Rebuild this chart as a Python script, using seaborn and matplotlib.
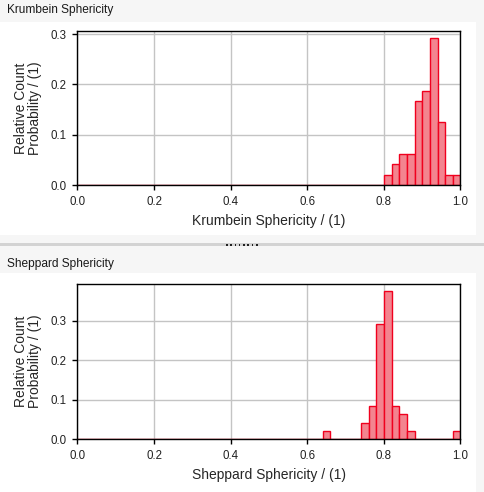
import numpy as np
import pandas as pd
import seaborn as sns
import matplotlib.pyplot as plt
from matplotlib.patches import Rectangle

# bin centres (width 0.02) and counts, 48 particles
krumbein_x = [0.81, 0.83, 0.85, 0.87, 0.89, 0.91, 0.93, 0.95, 0.97, 0.99]
krumbein_n = [1, 2, 3, 3, 8, 9, 14, 6, 1, 1]

sheppard_x = [0.65, 0.75, 0.77, 0.79, 0.81, 0.83, 0.85, 0.87, 0.99]
sheppard_n = [1, 2, 4, 14, 18, 4, 3, 1, 1]

xticks = [0.0, 0.2, 0.4, 0.6, 0.8, 1.0]
yticks = [0.0, 0.1, 0.2, 0.3]

sns.set_style("whitegrid")
plt.rcParams['font.family'] = ['Liberation Sans', 'DejaVu Sans']

fig = plt.figure(figsize=(4.85, 4.92), dpi=100, facecolor='#f6f6f6')

# white panel backgrounds + grey splitter
fig.patches.append(Rectangle((0, 1 - 235/492), 476/485, 213/492, transform=fig.transFigure,
                             facecolor='white', edgecolor='none', zorder=0))
fig.patches.append(Rectangle((0, 0), 476/485, 1 - 273/492, transform=fig.transFigure,
                             facecolor='white', edgecolor='none', zorder=0))
fig.patches.append(Rectangle((0, 1 - 246.5/492), 1, 3/492, transform=fig.transFigure,
                             facecolor='#d3d3d3', edgecolor='none', zorder=0))
for i in range(8):
    fig.patches.append(Rectangle(((226 + i*4.3)/485, 1 - 246/492), 1.6/485, 1.6/492,
                                 transform=fig.transFigure, facecolor='#222222',
                                 edgecolor='none', zorder=1))

panels = [
    ("Krumbein Sphericity", krumbein_x, krumbein_n, [77.5/485, 1 - 185/492, 383/485, 154/492], 1 - 10/492),
    ("Sheppard Sphericity", sheppard_x, sheppard_n, [77.5/485, 1 - 439/492, 383/485, 155.5/492], 1 - 264/492),
]

for name, xs, ns, pos, ty in panels:
    fig.text(7/485, ty, name, fontsize=8.6, va='center', ha='left', color='#1a1a1a')
    ax = fig.add_axes(pos)
    ax.set_zorder(5)
    ax.set_facecolor('white')
    df = pd.DataFrame({'x': xs, 'n': ns})
    sns.histplot(data=df, x='x', weights='n', stat='probability', bins=50, binrange=(0, 1),
                 color='#ee0022', facecolor='#f3848f', edgecolor='#f0001e', linewidth=1.0,
                 alpha=1, ax=ax, zorder=3)
    ax.set_xlim(0, 1)
    ax.set_ylim(bottom=0)
    ax.set_xticks(xticks)
    ax.set_yticks(yticks)
    ax.set_xticklabels(["%.1f" % t for t in xticks])
    ax.set_yticklabels(["%.1f" % t for t in yticks])
    ax.grid(True, color='#c4c4c4', linewidth=1)
    ax.set_axisbelow(True)
    for s in ax.spines.values():
        s.set_color('black')
        s.set_linewidth(1.0)
        s.set_zorder(4)
    ax.tick_params(direction='out', length=3.6, width=1, color='black', labelsize=8.3, pad=4,
                   bottom=True, left=True, labelcolor='#222222')
    ax.set_xlabel(name + " / (1)", fontsize=10, labelpad=5)
    ax.set_ylabel("Relative Count\nProbability / (1)", fontsize=10, labelpad=6, linespacing=1.05)

fig.savefig('out.png', dpi=100, facecolor=fig.get_facecolor())
